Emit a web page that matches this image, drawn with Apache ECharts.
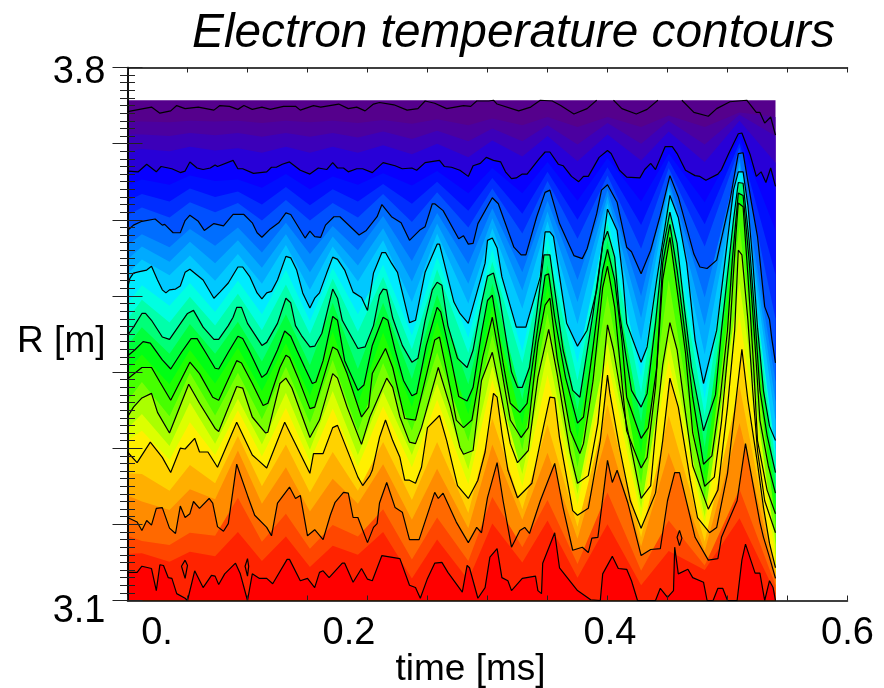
<!DOCTYPE html>
<html><head><meta charset="utf-8">
<script src="https://cdn.jsdelivr.net/npm/echarts@6/dist/echarts.min.js"></script>
<style>html,body{margin:0;padding:0;background:#fff}#c{width:884px;height:688px}</style>
</head><body><div id="c"></div>
<script>
const titleText = 'Electron temperature contours';
const xName = 'time [ms]';
const yName = 'R [m]';
const xTickLabels = {0:'0.', 0.2:'0.2', 0.4:'0.4', 0.6:'0.6'};
const yTickLabels = {3.1:'3.1', 3.8:'3.8'};

// Time samples [ms] of the colour band edges (wave crests and troughs)
const bandTimes = [0,.012,.035,.052,.073,.092,.112,.132,.152,.171,.192,.213,.237,.258,.284,.304,.329,.350,.375,.400,.428,.451,.481,.510,.540];
// Colour band edges R [m]
const bandTop = bandTimes.map(() => 3.757);
const band1 = [3.729,3.729,3.728,3.730,3.729,3.730,3.727,3.730,3.728,3.730,3.727,3.731,3.726,3.732,3.724,3.733,3.724,3.735,3.722,3.735,3.722,3.737,3.722,3.741,3.735];
const band2 = [3.712,3.712,3.710,3.714,3.711,3.714,3.709,3.714,3.709,3.714,3.708,3.716,3.706,3.717,3.703,3.720,3.703,3.724,3.699,3.727,3.700,3.730,3.699,3.738,3.710];
const band3 = [3.690,3.693,3.690,3.696,3.691,3.694,3.688,3.696,3.688,3.696,3.688,3.698,3.686,3.700,3.682,3.704,3.683,3.710,3.677,3.712,3.678,3.716,3.676,3.730,3.675];
const band4 = [3.645,3.653,3.646,3.658,3.651,3.653,3.642,3.660,3.640,3.657,3.646,3.661,3.645,3.664,3.635,3.668,3.635,3.676,3.625,3.681,3.624,3.687,3.623,3.708,3.586];
const band5 = [3.625,3.634,3.624,3.641,3.630,3.637,3.620,3.643,3.619,3.640,3.624,3.647,3.621,3.650,3.612,3.655,3.608,3.663,3.600,3.669,3.593,3.678,3.594,3.701,3.528];
const band6 = [3.606,3.616,3.603,3.623,3.610,3.622,3.599,3.626,3.599,3.622,3.603,3.634,3.597,3.636,3.590,3.641,3.582,3.651,3.575,3.658,3.562,3.668,3.565,3.695,3.470];
const band7 = [3.567,3.581,3.564,3.588,3.566,3.590,3.557,3.596,3.555,3.592,3.560,3.605,3.546,3.609,3.542,3.615,3.531,3.625,3.521,3.639,3.500,3.652,3.498,3.682,3.387];
const band8 = [3.548,3.565,3.545,3.571,3.543,3.573,3.537,3.581,3.531,3.578,3.540,3.589,3.519,3.595,3.516,3.602,3.507,3.611,3.492,3.631,3.471,3.646,3.461,3.676,3.361];
const band9 = [3.529,3.548,3.527,3.553,3.520,3.555,3.516,3.567,3.508,3.565,3.519,3.573,3.492,3.582,3.490,3.589,3.483,3.598,3.463,3.622,3.441,3.639,3.423,3.669,3.336];
const band10 = [3.490,3.514,3.487,3.517,3.479,3.520,3.476,3.534,3.467,3.537,3.476,3.541,3.448,3.551,3.445,3.561,3.427,3.577,3.412,3.604,3.393,3.625,3.365,3.658,3.296];
const band11 = [3.469,3.495,3.465,3.499,3.461,3.503,3.455,3.515,3.450,3.523,3.453,3.525,3.430,3.535,3.425,3.545,3.412,3.561,3.389,3.595,3.373,3.617,3.343,3.654,3.282];
const band12 = [3.435,3.459,3.424,3.463,3.424,3.466,3.414,3.476,3.409,3.491,3.404,3.491,3.391,3.502,3.384,3.516,3.364,3.541,3.350,3.573,3.334,3.602,3.301,3.642,3.255];
const band13 = [3.402,3.423,3.384,3.429,3.385,3.432,3.375,3.438,3.369,3.453,3.359,3.452,3.354,3.466,3.345,3.487,3.331,3.512,3.314,3.550,3.293,3.586,3.265,3.629,3.228];
const band14 = [3.362,3.387,3.342,3.399,3.343,3.399,3.338,3.407,3.333,3.416,3.323,3.412,3.323,3.426,3.309,3.449,3.298,3.477,3.275,3.501,3.253,3.521,3.235,3.591,3.202];
const band15 = [3.326,3.345,3.303,3.360,3.306,3.365,3.305,3.373,3.298,3.375,3.291,3.374,3.291,3.385,3.272,3.408,3.266,3.427,3.240,3.439,3.221,3.441,3.210,3.517,3.174];
const band16 = [3.310,3.323,3.285,3.334,3.291,3.350,3.289,3.353,3.283,3.352,3.276,3.355,3.275,3.364,3.253,3.390,3.250,3.396,3.226,3.416,3.208,3.416,3.199,3.474,3.158];
const band17 = [3.267,3.266,3.244,3.278,3.254,3.316,3.250,3.305,3.242,3.295,3.244,3.308,3.232,3.308,3.215,3.339,3.220,3.331,3.197,3.357,3.183,3.343,3.177,3.382,3.138];
const band18 = [3.238,3.230,3.219,3.246,3.233,3.297,3.227,3.275,3.217,3.260,3.227,3.279,3.206,3.273,3.195,3.305,3.206,3.294,3.181,3.320,3.171,3.294,3.165,3.333,3.134];
const band19 = [3.185,3.178,3.173,3.189,3.185,3.235,3.177,3.214,3.168,3.199,3.184,3.220,3.154,3.209,3.152,3.236,3.170,3.232,3.148,3.242,3.139,3.205,3.146,3.246,3.120];
const band20 = [3.161,3.162,3.151,3.164,3.158,3.190,3.152,3.184,3.144,3.172,3.160,3.190,3.129,3.180,3.127,3.201,3.150,3.205,3.130,3.200,3.120,3.165,3.140,3.208,3.110];

// Black contours, [time ms, R m]
const contour1 = [[0,3.742],[.010,3.745],[.020,3.748],[.027,3.740],[.036,3.743],[.041,3.750],[.048,3.746],[.059,3.748],[.072,3.744],[.077,3.750],[.085,3.749],[.092,3.745],[.097,3.750],[.104,3.745],[.112,3.748],[.119,3.745],[.130,3.749],[.140,3.749],[.144,3.744],[.155,3.750],[.161,3.748],[.176,3.752],[.184,3.746],[.191,3.748],[.198,3.743],[.205,3.752],[.210,3.754],[.222,3.751],[.233,3.744],[.242,3.746],[.248,3.756],[.256,3.753],[.266,3.746],[.280,3.750],[.286,3.749],[.291,3.756],[.301,3.756],[.305,3.757],[.308,3.752],[.326,3.743],[.336,3.748],[.344,3.757],[.354,3.756],[.361,3.750],[.372,3.739],[.383,3.746],[.391,3.757],[.398,null],[.405,3.757],[.412,3.746],[.424,3.739],[.433,3.745],[.442,3.757],[.452,null],[.462,3.757],[.472,3.741],[.484,3.736],[.491,3.746],[.502,3.755],[.516,3.757],[.524,3.741],[.527,3.741],[.531,3.727],[.536,3.735],[.540,3.711]];
const contour2 = [[0,3.664],[.009,3.663],[.016,3.673],[.024,3.663],[.028,3.670],[.037,3.667],[.044,3.662],[.048,3.664],[.052,3.676],[.058,3.668],[.063,3.666],[.069,3.668],[.073,3.672],[.075,3.670],[.088,3.678],[.092,3.667],[.096,3.667],[.105,3.661],[.116,3.663],[.120,3.669],[.124,3.669],[.129,3.673],[.135,3.676],[.144,3.665],[.152,3.660],[.159,3.668],[.166,3.666],[.171,3.675],[.175,3.668],[.180,3.668],[.184,3.663],[.191,3.667],[.196,3.667],[.204,3.662],[.213,3.675],[.223,3.671],[.229,3.667],[.237,3.668],[.241,3.665],[.248,3.675],[.260,3.678],[.264,3.670],[.270,3.669],[.277,3.665],[.284,3.657],[.288,3.671],[.294,3.674],[.299,3.682],[.305,3.678],[.311,3.676],[.315,3.663],[.320,3.654],[.324,3.655],[.329,3.660],[.333,3.660],[.343,3.680],[.348,3.689],[.352,3.689],[.359,3.673],[.363,3.671],[.370,3.657],[.376,3.650],[.380,3.657],[.384,3.657],[.393,3.682],[.400,3.691],[.403,3.687],[.410,3.665],[.416,3.656],[.427,3.655],[.431,3.666],[.436,3.674],[.440,3.666],[.448,3.696],[.454,3.696],[.458,3.687],[.465,3.665],[.473,3.658],[.477,3.657],[.482,3.652],[.492,3.660],[.495,3.666],[.501,3.687],[.509,3.713],[.512,3.714],[.519,3.685],[.524,3.657],[.528,3.663],[.532,3.649],[.536,3.668],[.540,3.644]];
const contour3 = [[0,3.586],[.005,3.593],[.012,3.598],[.023,3.601],[.029,3.593],[.031,3.594],[.038,3.583],[.044,3.583],[.048,3.599],[.052,3.606],[.059,3.598],[.064,3.586],[.072,3.595],[.080,3.592],[.088,3.607],[.097,3.607],[.104,3.596],[.108,3.583],[.112,3.577],[.119,3.588],[.126,3.596],[.132,3.609],[.136,3.607],[.148,3.576],[.152,3.585],[.156,3.578],[.161,3.577],[.165,3.593],[.172,3.604],[.177,3.604],[.193,3.580],[.199,3.586],[.208,3.604],[.212,3.620],[.220,3.604],[.228,3.596],[.235,3.573],[.244,3.587],[.248,3.591],[.254,3.621],[.256,3.621],[.263,3.612],[.276,3.575],[.280,3.579],[.284,3.568],[.288,3.569],[.292,3.595],[.304,3.629],[.309,3.621],[.322,3.564],[.328,3.554],[.332,3.554],[.341,3.604],[.348,3.636],[.352,3.639],[.360,3.595],[.372,3.553],[.379,3.549],[.383,3.562],[.391,3.608],[.395,3.639],[.400,3.646],[.408,3.623],[.416,3.564],[.420,3.558],[.428,3.529],[.436,3.560],[.444,3.606],[.452,3.658],[.459,3.630],[.472,3.555],[.477,3.538],[.483,3.536],[.491,3.547],[.502,3.625],[.509,3.687],[.513,3.688],[.520,3.622],[.525,3.578],[.531,3.486],[.535,3.469],[.537,3.443],[.540,3.412]];
const contour4 = [[0,3.510],[.002,3.523],[.005,3.530],[.010,3.532],[.016,3.534],[.020,3.539],[.025,3.521],[.029,3.508],[.032,3.504],[.035,3.508],[.040,3.509],[.044,3.513],[.048,3.531],[.052,3.535],[.063,3.521],[.072,3.497],[.077,3.505],[.084,3.517],[.092,3.538],[.096,3.538],[.102,3.525],[.108,3.504],[.112,3.496],[.116,3.504],[.120,3.506],[.125,3.521],[.132,3.552],[.136,3.550],[.141,3.534],[.146,3.504],[.152,3.484],[.156,3.497],[.160,3.504],[.166,3.530],[.171,3.551],[.175,3.548],[.181,3.534],[.188,3.505],[.195,3.498],[.200,3.481],[.205,3.530],[.212,3.557],[.215,3.557],[.220,3.543],[.225,3.531],[.235,3.465],[.240,3.468],[.248,3.531],[.258,3.568],[.260,3.568],[.272,3.492],[.277,3.477],[.284,3.464],[.298,3.543],[.300,3.573],[.304,3.576],[.308,3.563],[.312,3.525],[.324,3.459],[.332,3.459],[.344,3.525],[.348,3.584],[.352,3.584],[.355,3.578],[.366,3.464],[.375,3.434],[.383,3.455],[.391,3.508],[.400,3.614],[.408,3.586],[.413,3.521],[.416,3.464],[.428,3.413],[.433,3.433],[.441,3.521],[.452,3.632],[.459,3.603],[.466,3.543],[.473,3.442],[.480,3.385],[.491,3.455],[.498,3.547],[.505,3.639],[.509,3.663],[.513,3.663],[.517,3.619],[.521,3.547],[.525,3.459],[.530,3.375],[.535,3.329],[.540,3.310]];
const contour5 = [[0,3.448],[.005,3.459],[.012,3.477],[.015,3.477],[.020,3.468],[.029,3.446],[.035,3.443],[.050,3.477],[.055,3.481],[.063,3.459],[.072,3.443],[.076,3.443],[.084,3.461],[.088,3.472],[.091,3.485],[.095,3.485],[.100,3.464],[.112,3.435],[.116,3.439],[.125,3.464],[.132,3.497],[.136,3.491],[.140,3.461],[.145,3.448],[.152,3.433],[.156,3.434],[.162,3.451],[.171,3.509],[.175,3.497],[.179,3.468],[.192,3.431],[.198,3.433],[.205,3.461],[.210,3.501],[.213,3.509],[.216,3.508],[.221,3.471],[.229,3.435],[.237,3.413],[.242,3.418],[.248,3.468],[.254,3.508],[.258,3.518],[.262,3.514],[.267,3.461],[.275,3.418],[.283,3.406],[.288,3.429],[.295,3.490],[.300,3.526],[.305,3.530],[.310,3.498],[.320,3.400],[.325,3.380],[.329,3.380],[.335,3.406],[.341,3.477],[.347,3.554],[.352,3.554],[.356,3.508],[.363,3.429],[.371,3.376],[.377,3.367],[.388,3.477],[.396,3.569],[.400,3.585],[.406,3.551],[.410,3.477],[.415,3.425],[.420,3.376],[.428,3.354],[.433,3.372],[.440,3.464],[.446,3.560],[.452,3.610],[.458,3.569],[.464,3.485],[.470,3.406],[.480,3.323],[.490,3.370],[.495,3.455],[.505,3.600],[.509,3.649],[.513,3.648],[.518,3.573],[.523,3.468],[.527,3.376],[.533,3.317],[.540,3.268]];
const contour6 = [[0,3.421],[.006,3.429],[.013,3.440],[.019,3.438],[.029,3.416],[.036,3.404],[.045,3.426],[.053,3.444],[.058,3.444],[.065,3.426],[.073,3.405],[.076,3.404],[.084,3.426],[.092,3.447],[.096,3.444],[.102,3.426],[.112,3.393],[.116,3.398],[.125,3.429],[.131,3.454],[.136,3.447],[.141,3.429],[.148,3.405],[.154,3.385],[.157,3.387],[.163,3.415],[.171,3.473],[.175,3.468],[.181,3.415],[.192,3.376],[.197,3.383],[.204,3.435],[.213,3.472],[.217,3.468],[.223,3.429],[.230,3.389],[.237,3.369],[.241,3.372],[.249,3.435],[.258,3.485],[.261,3.479],[.268,3.429],[.276,3.368],[.283,3.362],[.288,3.380],[.295,3.451],[.300,3.494],[.304,3.501],[.313,3.412],[.319,3.359],[.327,3.347],[.333,3.359],[.340,3.438],[.348,3.527],[.351,3.529],[.356,3.472],[.365,3.393],[.375,3.333],[.380,3.341],[.388,3.433],[.396,3.534],[.400,3.561],[.406,3.521],[.412,3.442],[.416,3.367],[.428,3.313],[.434,3.327],[.441,3.406],[.446,3.543],[.452,3.594],[.458,3.534],[.465,3.446],[.471,3.367],[.480,3.279],[.487,3.290],[.494,3.367],[.500,3.455],[.504,3.547],[.509,3.635],[.513,3.632],[.518,3.547],[.523,3.435],[.527,3.337],[.534,3.277],[.540,3.241]];
const contour7 = [[0,3.391],[.012,3.406],[.020,3.406],[.027,3.387],[.036,3.363],[.052,3.413],[.060,3.398],[.071,3.367],[.076,3.363],[.091,3.415],[.095,3.412],[.104,3.385],[.113,3.356],[.117,3.359],[.127,3.406],[.132,3.422],[.135,3.419],[.142,3.393],[.152,3.352],[.156,3.354],[.171,3.433],[.175,3.429],[.183,3.398],[.195,3.341],[.201,3.354],[.204,3.398],[.215,3.431],[.221,3.406],[.231,3.339],[.240,3.337],[.246,3.376],[.256,3.442],[.260,3.446],[.270,3.370],[.274,3.337],[.280,3.327],[.287,3.337],[.296,3.419],[.304,3.472],[.310,3.419],[.319,3.337],[.328,3.314],[.334,3.327],[.342,3.438],[.348,3.488],[.352,3.497],[.358,3.419],[.369,3.323],[.377,3.293],[.380,3.306],[.388,3.389],[.396,3.511],[.400,3.539],[.406,3.485],[.410,3.419],[.416,3.323],[.428,3.274],[.433,3.288],[.440,3.380],[.446,3.521],[.452,3.577],[.458,3.508],[.465,3.425],[.471,3.320],[.481,3.250],[.489,3.262],[.495,3.335],[.502,3.455],[.507,3.580],[.509,3.622],[.513,3.617],[.517,3.527],[.522,3.402],[.525,3.310],[.533,3.245],[.540,3.214]];
const contour8 = [[0,3.341],[.005,3.354],[.012,3.366],[.020,3.372],[.025,3.347],[.035,3.320],[.051,3.384],[.060,3.359],[.073,3.326],[.076,3.322],[.091,3.381],[.096,3.379],[.104,3.341],[.115,3.320],[.117,3.321],[.127,3.385],[.132,3.392],[.137,3.379],[.152,3.314],[.160,3.337],[.171,3.398],[.175,3.392],[.183,3.354],[.195,3.305],[.202,3.341],[.216,3.392],[.221,3.380],[.227,3.341],[.235,3.308],[.240,3.306],[.245,3.327],[.259,3.406],[.269,3.354],[.277,3.301],[.280,3.292],[.288,3.297],[.295,3.389],[.304,3.426],[.310,3.380],[.319,3.306],[.325,3.281],[.334,3.297],[.342,3.393],[.351,3.456],[.358,3.398],[.369,3.293],[.375,3.254],[.384,3.264],[.392,3.333],[.400,3.462],[.405,3.429],[.413,3.354],[.419,3.306],[.428,3.234],[.436,3.251],[.441,3.337],[.446,3.409],[.452,3.465],[.458,3.429],[.465,3.346],[.471,3.277],[.484,3.220],[.492,3.245],[.500,3.354],[.506,3.455],[.509,3.560],[.512,3.554],[.517,3.468],[.521,3.376],[.525,3.297],[.531,3.231],[.540,3.189]];
const contour9 = [[0,3.295],[.008,3.281],[.019,3.308],[.029,3.288],[.036,3.268],[.044,3.300],[.048,3.299],[.056,3.313],[.060,3.295],[.067,3.295],[.075,3.275],[.091,3.334],[.104,3.291],[.109,3.284],[.116,3.274],[.131,3.334],[.152,3.267],[.155,3.293],[.163,3.293],[.171,3.327],[.175,3.330],[.192,3.262],[.196,3.251],[.202,3.264],[.204,3.271],[.210,3.314],[.215,3.337],[.221,3.310],[.227,3.288],[.231,3.258],[.235,3.258],[.240,3.254],[.245,3.275],[.250,3.327],[.260,3.343],[.266,3.310],[.275,3.251],[.284,3.234],[.292,3.258],[.298,3.295],[.305,3.372],[.308,3.367],[.312,3.320],[.317,3.271],[.325,3.235],[.337,3.254],[.346,3.323],[.352,3.367],[.356,3.366],[.360,3.314],[.371,3.218],[.375,3.212],[.384,3.221],[.394,3.310],[.400,3.396],[.402,3.372],[.410,3.301],[.419,3.231],[.428,3.195],[.440,3.241],[.446,3.310],[.452,3.392],[.459,3.354],[.469,3.258],[.475,3.209],[.485,3.189],[.491,3.196],[.500,3.267],[.508,3.376],[.512,3.430],[.517,3.363],[.525,3.280],[.530,3.222],[.535,3.175],[.540,3.143]];
const contour10 = [[0,3.209],[.008,3.203],[.012,3.192],[.016,3.205],[.020,3.199],[.024,3.221],[.029,3.222],[.035,3.195],[.040,3.188],[.044,3.224],[.048,3.209],[.052,3.214],[.055,3.230],[.060,3.221],[.068,3.234],[.071,3.228],[.075,3.197],[.080,3.191],[.084,3.201],[.091,3.279],[.100,3.238],[.106,3.212],[.116,3.196],[.120,3.185],[.125,3.228],[.135,3.249],[.140,3.234],[.144,3.238],[.150,3.185],[.156,3.193],[.163,3.180],[.169,3.212],[.173,3.229],[.180,3.242],[.184,3.241],[.188,3.209],[.192,3.209],[.200,3.176],[.205,3.196],[.208,3.201],[.210,3.228],[.216,3.255],[.223,3.222],[.229,3.216],[.235,3.180],[.243,3.180],[.256,3.242],[.259,3.234],[.263,3.241],[.274,3.203],[.284,3.176],[.291,3.196],[.295,3.189],[.300,3.235],[.308,3.281],[.313,3.231],[.320,3.170],[.327,3.192],[.331,3.196],[.335,3.188],[.344,3.231],[.356,3.280],[.363,3.222],[.371,3.166],[.379,3.170],[.384,3.163],[.387,3.182],[.392,3.183],[.400,3.284],[.404,3.255],[.408,3.271],[.417,3.228],[.428,3.159],[.436,3.167],[.444,3.168],[.450,3.231],[.456,3.268],[.460,3.268],[.473,3.183],[.484,3.153],[.492,3.155],[.495,3.183],[.508,3.231],[.515,3.306],[.527,3.203],[.530,3.183],[.535,3.157],[.540,3.129]];
const contour11 = [[0,3.137],[.008,3.137],[.012,3.145],[.020,3.142],[.024,3.113],[.027,3.147],[.030,3.146],[.034,3.130],[.037,3.129],[.041,3.109],[.048,3.103],[.050,3.100],[.056,3.139],[.063,3.117],[.070,3.133],[.073,3.132],[.076,3.121],[.081,3.135],[.090,3.149],[.094,3.135],[.100,3.100],[.104,3.135],[.110,3.129],[.116,3.129],[.121,3.122],[.133,3.154],[.135,3.154],[.144,3.126],[.150,3.129],[.156,3.117],[.160,3.137],[.163,3.139],[.168,3.130],[.179,3.149],[.181,3.149],[.188,3.124],[.195,3.142],[.200,3.128],[.204,3.126],[.212,3.159],[.227,3.155],[.235,3.120],[.240,3.117],[.244,3.103],[.250,3.129],[.256,3.149],[.262,3.150],[.267,3.137],[.279,3.111],[.283,3.146],[.285,3.143],[.292,3.103],[.298,3.117],[.302,3.157],[.308,3.168],[.312,3.130],[.317,3.126],[.320,3.113],[.329,3.129],[.340,3.132],[.342,3.113],[.345,3.109],[.346,3.149],[.356,3.189],[.360,3.143],[.375,3.113],[.386,3.101],[.394,3.100],[.396,3.135],[.404,3.158],[.409,3.142],[.416,3.141],[.420,3.126],[.425,3.100],[.440,3.100],[.444,3.116],[.450,3.104],[.455,3.113],[.456,3.170],[.459,3.135],[.467,3.141],[.471,3.130],[.480,3.124],[.483,3.100],[.488,3.100],[.492,3.116],[.496,3.116],[.500,3.100],[.508,3.100],[.512,3.153],[.515,3.174],[.523,3.136],[.527,3.136],[.531,3.100],[.535,3.126],[.538,3.117],[.540,3.100]];
// Small closed islands of the hottest contour
const island1 = [[.048,3.153],[.050,3.146],[.048,3.129],[.045,3.145],[.048,3.153]];
const island2 = [[.100,3.155],[.101,3.145],[.100,3.132],[.098,3.145],[.100,3.155]];
const island3 = [[.460,3.192],[.462,3.182],[.460,3.172],[.458,3.183],[.460,3.192]];

const zip = v => bandTimes.map((t, i) => [t, v[i]]);
// Painted from the top down; each layer covers everything below its edge.
const layers = [
  [zip(bandTop),'rgb(85,0,140)'],[zip(band1),'rgb(75,0,160)'],[zip(band2),'rgb(60,0,185)'],[zip(band3),'rgb(40,0,215)'],
  [contour2,'rgb(8,0,255)'],[zip(band4),'rgb(0,15,255)'],[zip(band5),'rgb(0,45,255)'],[zip(band6),'rgb(0,80,255)'],
  [contour3,'rgb(0,110,255)'],[zip(band7),'rgb(0,140,255)'],[zip(band8),'rgb(0,170,255)'],[zip(band9),'rgb(0,200,255)'],
  [contour4,'rgb(0,235,255)'],[zip(band10),'rgb(0,255,225)'],[zip(band11),'rgb(0,255,170)'],
  [contour5,'rgb(0,255,120)'],[zip(band12),'rgb(0,255,60)'],
  [contour6,'rgb(0,255,20)'],[zip(band13),'rgb(30,255,0)'],
  [contour7,'rgb(70,255,0)'],[zip(band14),'rgb(120,255,0)'],
  [contour8,'rgb(170,255,0)'],[zip(band15),'rgb(220,255,0)'],[zip(band16),'rgb(255,240,0)'],
  [contour9,'rgb(255,210,0)'],[zip(band17),'rgb(255,175,0)'],[zip(band18),'rgb(255,140,0)'],
  [contour10,'rgb(255,105,0)'],[zip(band19),'rgb(255,70,0)'],[zip(band20),'rgb(255,35,0)'],
  [contour11,'rgb(255,0,0)']
];
const blackLines = [contour1,contour2,contour3,contour4,contour5,contour6,contour7,contour8,contour9,contour10,contour11,island1,island2,island3];

const series = [];
layers.forEach(([data, color]) => series.push({
  type:'line', data, symbol:'none', silent:true, animation:false, z:2,
  lineStyle:{width:0, color}, itemStyle:{color},
  areaStyle:{color, opacity:1, origin:'start'}
}));
blackLines.forEach(data => series.push({
  type:'line', data, symbol:'none', silent:true, animation:false, z:3,
  lineStyle:{width:1.2, color:'#000'}, itemStyle:{color:'#000'}
}));

const font = 'Liberation Sans';
const line = {show:true, lineStyle:{color:'#000', width:1.5}};
const xBase = {type:'value', min:0, max:0.6, interval:0.05, z:10, splitLine:{show:false}, axisLine:line,
  axisTick:{show:true, inside:true, length:5, lineStyle:{color:'#222', width:1}}};
const yBase = {type:'value', min:3.1, max:3.8, interval:0.1, z:10, splitLine:{show:false}, axisLine:line,
  axisTick:{show:true, inside:true, length:15, lineStyle:{color:'#222', width:1}},
  minorTick:{show:true, splitNumber:10, length:7.5, lineStyle:{color:'#222', width:1}}};
const tickFont = {fontFamily:font, fontSize:38, color:'#000'};
const tickRich = {
  a:Object.assign({}, tickFont, {padding:[0,0,0,59]}),
  b:Object.assign({}, tickFont, {padding:[0,37,0,0]}),
  c:Object.assign({}, tickFont, {padding:[0,0,0,5]}),
  d:tickFont,
  e:Object.assign({}, tickFont, {padding:[22,0,0,0]}),
  f:Object.assign({}, tickFont, {padding:[11,0,0,0]})
};
const xStyle = {0:'a', 0.2:'b', 0.4:'c', 0.6:'d'};
const yStyle = {3.1:'e', 3.8:'f'};

const chart = echarts.init(document.getElementById('c'), null, {renderer:'canvas'});
chart.setOption({
  animation:false, backgroundColor:'#fff',
  title:{text:titleText, left:187, top:5, textStyle:{fontFamily:font, fontStyle:'italic', fontWeight:'normal', fontSize:47.8, color:'#000'}},
  grid:{left:127.5, right:36.5, top:67.5, bottom:87.5, containLabel:false, outerBoundsMode:'none'},
  xAxis:[Object.assign({}, xBase, {position:'bottom', name:xName, nameLocation:'middle', nameGap:51, nameMoveOverlap:false,
      nameTextStyle:{fontFamily:font, fontSize:37, color:'#000', padding:[0,34,0,0]},
      axisLabel:{show:true, margin:14, hideOverlap:false, rich:tickRich, formatter:v => { const k=+v.toFixed(2); return xTickLabels[k] ? `{${xStyle[k]}|${xTickLabels[k]}}` : ''; }}}),
    Object.assign({}, xBase, {position:'top', axisLabel:{show:false}})],
  yAxis:[Object.assign({}, yBase, {position:'left', name:yName, nameLocation:'middle', nameRotate:0, nameGap:22, nameMoveOverlap:false,
      nameTextStyle:{fontFamily:font, fontSize:37, color:'#000', align:'right', verticalAlign:'top', lineHeight:16},
      axisLabel:{show:true, margin:22, hideOverlap:false, rich:tickRich, formatter:v => { const k=+v.toFixed(1); return yTickLabels[k] ? `{${yStyle[k]}|${yTickLabels[k]}}` : ''; }}}),
    Object.assign({}, yBase, {position:'right', axisLabel:{show:false}})],
  series
});
</script></body></html>
